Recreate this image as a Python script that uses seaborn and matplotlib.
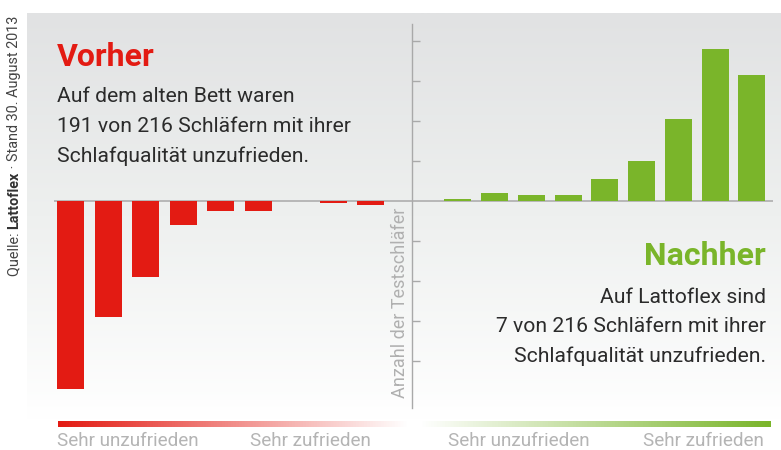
import numpy as np
import matplotlib
matplotlib.use("Agg")
import matplotlib.pyplot as plt
from matplotlib.colors import LinearSegmentedColormap
import seaborn as sns
import pandas as pd

sns.set_theme(style="white")
plt.rcParams['font.family'] = ['Roboto', 'DejaVu Sans']

# data (number of test sleepers per rating step)
steps = ["1", "2", "3", "4", "5", "6", "7", "8", "9"]
vorher = [94, 58, 38, 12, 5, 5, 0, 1, 2]
nachher = [1, 4, 3, 3, 11, 20, 41, 76, 63]
y_ticks = [-80, -60, -40, -20, 20, 40, 60, 80]
scale_labels = ["Sehr unzufrieden", "Sehr zufrieden", "Sehr unzufrieden", "Sehr zufrieden"]

RED = "#e31b13"
GREEN = "#7ab52a"
W, H = 781, 450

fig = plt.figure(figsize=(W / 100, H / 100), dpi=100)
fig.patch.set_facecolor("white")


def fx(px):
    return px / W


def fy(py):
    return 1 - py / H


# background gradient panel
bg = fig.add_axes([0, 0, 1, 1])
bg.set_xlim(0, W)
bg.set_ylim(H, 0)
bg.axis("off")
grad = np.linspace(0, 1, 256).reshape(-1, 1)
bg_cmap = LinearSegmentedColormap.from_list("bg", ["#e1e2e3", "#eef0ef", "#ffffff"])
bg.imshow(grad, cmap=bg_cmap, extent=[27, W, 420, 13], aspect="auto", zorder=0)

# bottom gradient bar
bar_cmap = LinearSegmentedColormap.from_list(
    "scale", [(0, RED), (0.49, "#ffffff"), (0.51, "#ffffff"), (1, GREEN)])
bg.imshow(np.linspace(0, 1, 512).reshape(1, -1), cmap=bar_cmap,
          extent=[58, 771, 427, 421], aspect="auto", zorder=1)

ylim = (-103.5, 88.5)
ax_bottom, ax_h = fy(408), (408 - 24) / H

# central axis with ticks
ax = fig.add_axes([fx(54), ax_bottom, fx(773 - 54), ax_h])
ax.patch.set_alpha(0)
ax.set_ylim(*ylim)
ax.set_xlim(0, 1)
for s in ["top", "right", "bottom"]:
    ax.spines[s].set_visible(False)
ax.spines["left"].set_position(("axes", (412 - 54) / (773 - 54)))
ax.spines["left"].set_color("#a9a9a9")
ax.spines["left"].set_linewidth(1.0)
ax.set_yticks(y_ticks)
ax.set_yticklabels([])
ax.set_xticks([])
ax.tick_params(axis="y", direction="in", length=6, width=1, color="#a9a9a9", left=True)
ax.axhline(0, color="#b3b3b3", lw=1.3, zorder=1)

# left bars (Vorher)
axl = fig.add_axes([fx(52.25), ax_bottom, fx(337.5), ax_h])
df_l = pd.DataFrame({"step": steps, "n": [-v for v in vorher]})
sns.barplot(data=df_l, x="step", y="n", ax=axl, color=RED, saturation=1,
            width=0.72, errorbar=None, edgecolor="none")

# right bars (Nachher)
axr = fig.add_axes([fx(439.6), ax_bottom, fx(330.75), ax_h])
df_r = pd.DataFrame({"step": steps, "n": nachher})
sns.barplot(data=df_r, x="step", y="n", ax=axr, color=GREEN, saturation=1,
            width=0.735, errorbar=None, edgecolor="none")

for a in (axl, axr):
    a.set_ylim(*ylim)
    a.set_xlim(-0.5, len(steps) - 0.5)
    a.patch.set_alpha(0)
    a.axis("off")

# texts
fig.text(fx(57), fy(66), "Vorher", color=RED, fontsize=23, fontweight="bold", va="baseline")
body_l = ["Auf dem alten Bett waren", "191 von 216 Schläfern mit ihrer",
          "Schlafqualität unzufrieden."]
for i, line in enumerate(body_l):
    fig.text(fx(57), fy(102 + 30 * i), line, color="#2b2b2b", fontsize=15.2, va="baseline")

fig.text(fx(766), fy(265), "Nachher", color=GREEN, fontsize=23, fontweight="bold",
         va="baseline", ha="right")
body_r = ["Auf Lattoflex sind", "7 von 216 Schläfern mit ihrer",
          "Schlafqualität unzufrieden."]
for i, line in enumerate(body_r):
    fig.text(fx(766), fy(303 + 29.5 * i), line, color="#2b2b2b", fontsize=15.2,
             va="baseline", ha="right")

fig.text(fx(400), fy(398), "Anzahl der Testschläfer", color="#b0b0b0", fontsize=13,
         rotation=90, ha="center", va="bottom")

for x, lab in zip([57, 250, 448, 643], scale_labels):
    fig.text(fx(x), fy(441), lab, color="#b4b4b4", fontsize=13.6, va="center")

# source note
src = fig.text(fx(14), fy(276), "Quelle: ", color="#444444", fontsize=10.4,
               rotation=90, ha="center", va="bottom")
fig.canvas.draw()
r = fig.canvas.get_renderer()
bb = src.get_window_extent(r)
src2 = fig.text(fx(14), (bb.y1) / fig.bbox.height, "Lattoflex", color="#333333",
                fontsize=10.4, fontweight="bold", rotation=90, ha="center", va="bottom")
bb2 = src2.get_window_extent(r)
fig.text(fx(14), (bb2.y1) / fig.bbox.height, " · Stand 30. August 2013", color="#444444",
         fontsize=10.4, rotation=90, ha="center", va="bottom")

fig.savefig("out.png", dpi=100)
